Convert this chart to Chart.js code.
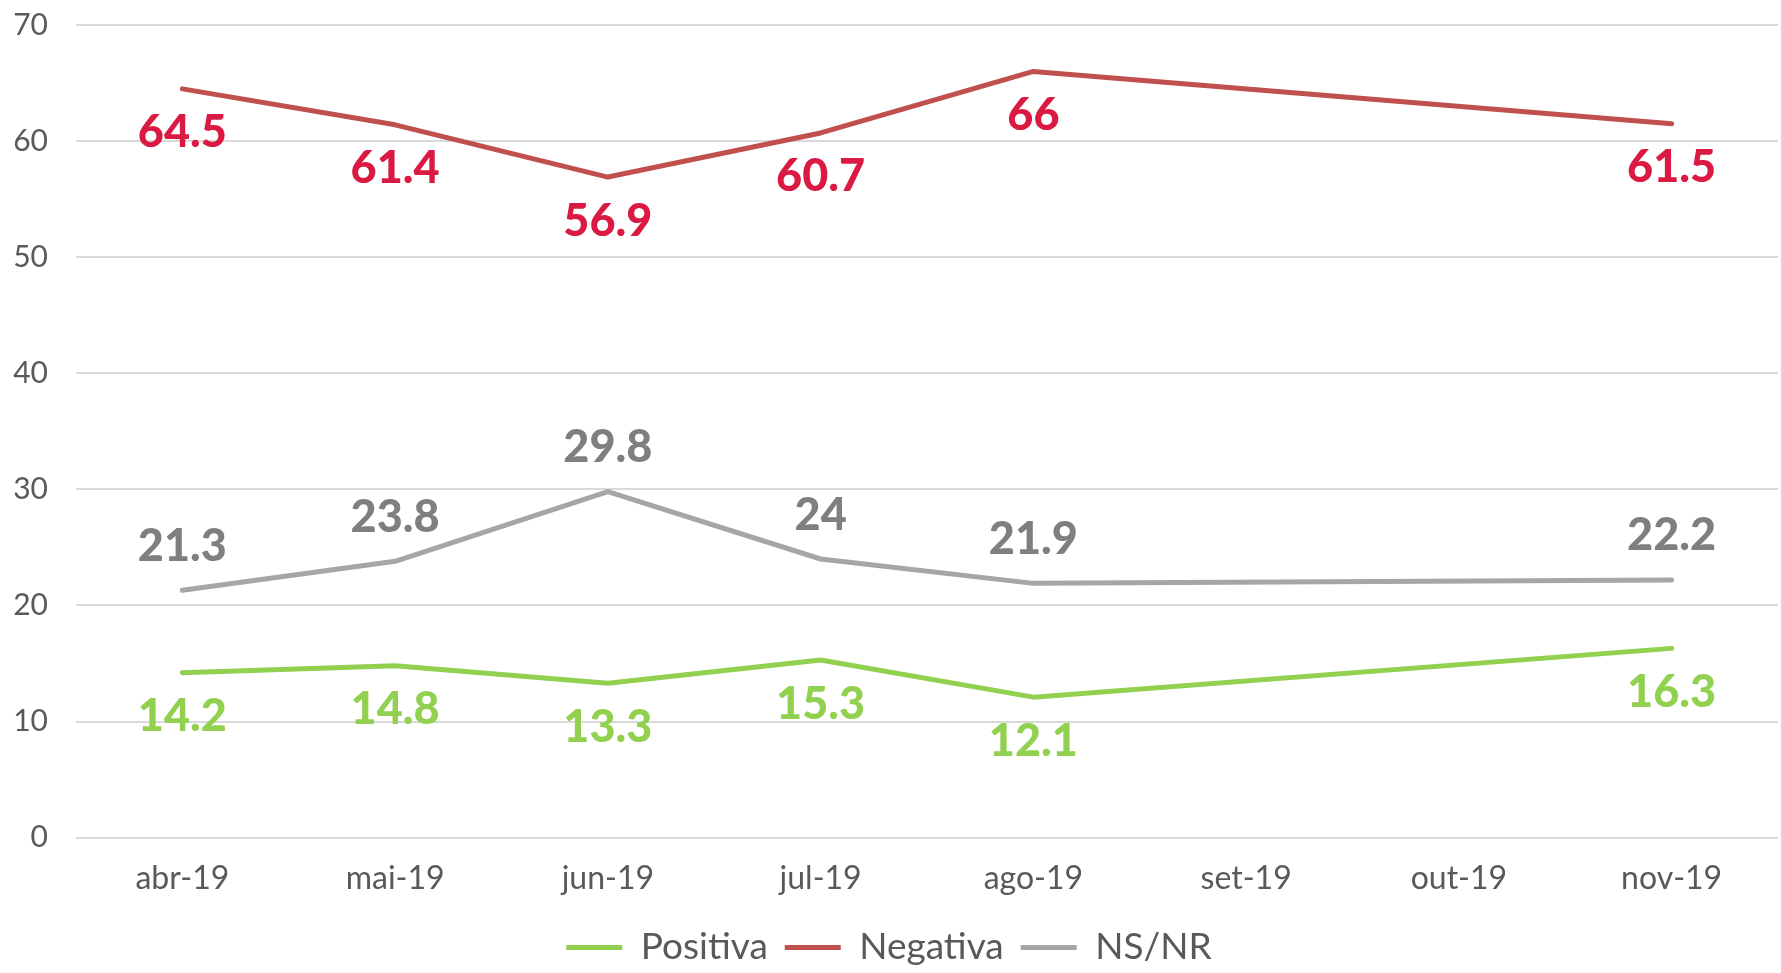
<!DOCTYPE html>
<html lang="pt">
<head>
  <meta charset="UTF-8">
  <title>Avaliação</title>
  <style>
    html, body { margin: 0; padding: 0; background: #fff; }
    .chart-box { width: 1781px; height: 973px; position: relative; }
  </style>
</head>
<body>
  <div class="chart-box">
    <canvas id="trendChart"></canvas>
  </div>

  <script src="https://cdn.jsdelivr.net/npm/chart.js"></script>
  <script>
    // data (set-19 and out-19 have no values)
    const months = ['abr-19', 'mai-19', 'jun-19', 'jul-19', 'ago-19', 'set-19', 'out-19', 'nov-19'];
    const positiva = [14.2, 14.8, 13.3, 15.3, 12.1, null, null, 16.3];
    const negativa = [64.5, 61.4, 56.9, 60.7, 66, null, null, 61.5];
    const nsnr = [21.3, 23.8, 29.8, 24, 21.9, null, null, 22.2];
    const yTicks = [0, 10, 20, 30, 40, 50, 60, 70];

    const fontFamily = 'Lato, "Noto Sans", sans-serif';

    // value labels: offset in px from the point (positive = below)
    const valueLabels = {
      id: 'valueLabels',
      afterDatasetsDraw(chart) {
        const ctx = chart.ctx;
        ctx.save();
        ctx.font = '900 45px ' + fontFamily;
        ctx.textAlign = 'center';
        ctx.textBaseline = 'middle';
        chart.data.datasets.forEach((ds, i) => {
          const meta = chart.getDatasetMeta(i);
          ctx.fillStyle = ds.labelColor;
          meta.data.forEach((pt, j) => {
            const v = ds.data[j];
            if (v === null) return;
            ctx.fillText(String(v), pt.x, pt.y + ds.labelOffset);
          });
        });
        ctx.restore();
      }
    };

    const ctx = document.getElementById('trendChart').getContext('2d');
    new Chart(ctx, {
      type: 'line',
      data: {
        labels: months,
        datasets: [
          {
            label: 'Positiva',
            data: positiva,
            borderColor: '#92D050',
            backgroundColor: '#92D050',
            borderWidth: 5,
            labelColor: '#92D050',
            labelOffset: 44
          },
          {
            label: 'Negativa',
            data: negativa,
            borderColor: '#C0504D',
            backgroundColor: '#C0504D',
            borderWidth: 5,
            labelColor: '#DA1A42',
            labelOffset: 44
          },
          {
            label: 'NS/NR',
            data: nsnr,
            borderColor: '#A6A6A6',
            backgroundColor: '#A6A6A6',
            borderWidth: 5,
            labelColor: '#7F7F7F',
            labelOffset: -44
          }
        ]
      },
      options: {
        responsive: true,
        maintainAspectRatio: false,
        animation: false,
        spanGaps: true,
        layout: {
          padding: { top: 25, right: 3, left: 0, bottom: -3 }
        },
        elements: {
          line: { tension: 0, borderCapStyle: 'round', borderJoinStyle: 'round' },
          point: { radius: 0, hoverRadius: 0 }
        },
        plugins: {
          tooltip: { enabled: false },
          legend: {
            position: 'bottom',
            labels: {
              usePointStyle: true,
              pointStyle: 'line',
              pointStyleWidth: 56,
              padding: 17,
              color: '#595959',
              font: { family: fontFamily, size: 37 }
            }
          }
        },
        scales: {
          x: {
            offset: true,
            grid: { display: false },
            border: { display: false },
            ticks: {
              color: '#595959',
              padding: 14,
              font: { family: fontFamily, size: 32 }
            }
          },
          y: {
            min: 0,
            max: 70,
            afterBuildTicks(scale) {
              scale.ticks = yTicks.map(v => ({ value: v }));
            },
            afterFit(scale) {
              scale.width = 76;
              scale.paddingTop = 0;
              scale.paddingBottom = 0;
            },
            grid: { color: '#D9D9D9', lineWidth: 2, drawTicks: false },
            border: { display: false },
            ticks: {
              color: '#595959',
              padding: 28,
              font: { family: fontFamily, size: 30 }
            }
          }
        }
      },
      plugins: [valueLabels]
    });
  </script>
</body>
</html>
